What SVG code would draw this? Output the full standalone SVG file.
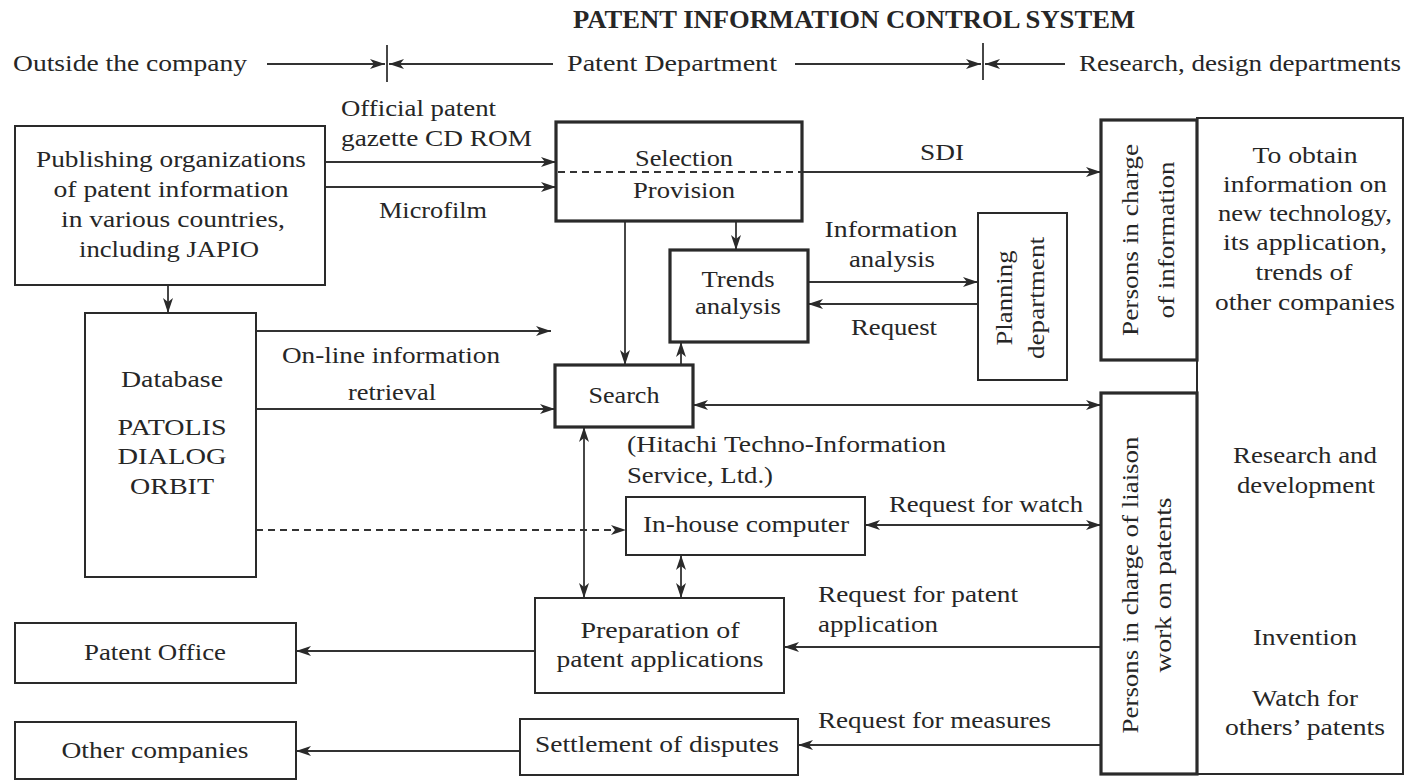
<svg xmlns="http://www.w3.org/2000/svg" width="1409" height="781" viewBox="0 0 1409 781">
<defs>
<style>
.t{font-family:"Liberation Serif","Times New Roman",serif;font-size:24px;fill:#262626;text-anchor:middle}
.s{text-anchor:start}
.ti{font-family:"Liberation Serif","Times New Roman",serif;font-size:25px;font-weight:bold;fill:#262626;text-anchor:middle}
.b{fill:#fff;stroke:#2a2a2a;stroke-width:2}
.k{fill:#fff;stroke:#2a2a2a;stroke-width:3.2}
.c{fill:none;stroke:#333;stroke-width:1.8}
.d{fill:none;stroke:#333;stroke-width:1.8;stroke-dasharray:7 5}
.a{marker-end:url(#ah)}
.aa{marker-end:url(#ah);marker-start:url(#ah)}
</style>
<marker id="ah" viewBox="0 0 15 10" refX="15" refY="5" markerWidth="15" markerHeight="10" markerUnits="userSpaceOnUse" orient="auto-start-reverse">
<path d="M0,0 L15,5 L0,10 L4,5 z" fill="#2a2a2a"/>
</marker>
</defs>
<rect width="1409" height="781" fill="#fff"/>

<g id="header">
<text class="ti" x="854" y="28" textLength="562" lengthAdjust="spacingAndGlyphs">PATENT INFORMATION CONTROL SYSTEM</text>
<text class="t s" x="13" y="71" textLength="234" lengthAdjust="spacingAndGlyphs">Outside the company</text>
<text class="t s" x="567" y="71" textLength="210" lengthAdjust="spacingAndGlyphs">Patent Department</text>
<text class="t s" x="1079" y="71" textLength="322" lengthAdjust="spacingAndGlyphs">Research, design departments</text>
<line class="c a" x1="267" y1="64" x2="385" y2="64"/>
<line class="c" x1="387" y1="45" x2="387" y2="82"/>
<line class="c a" x1="553" y1="64" x2="389" y2="64"/>
<line class="c a" x1="795" y1="64" x2="981" y2="64"/>
<line class="c" x1="983" y1="43" x2="983" y2="80"/>
<line class="c a" x1="1065" y1="64" x2="985" y2="64"/>
</g>

<g id="connectors">
<line class="c a" x1="325" y1="162" x2="556" y2="162"/>
<line class="c a" x1="325" y1="187" x2="556" y2="187"/>
<line class="c a" x1="168" y1="285" x2="168" y2="313"/>
<line class="c a" x1="802" y1="172" x2="1101" y2="172"/>
<line class="c a" x1="736" y1="221" x2="736" y2="250"/>
<line class="c a" x1="625" y1="221" x2="625" y2="365"/>
<line class="c a" x1="681" y1="365" x2="681" y2="342"/>
<line class="c a" x1="808" y1="282" x2="978" y2="282"/>
<line class="c a" x1="978" y1="304" x2="808" y2="304"/>
<line class="c a" x1="256" y1="331" x2="551" y2="331"/>
<line class="c a" x1="256" y1="409" x2="555" y2="409"/>
<line class="c aa" x1="693" y1="405" x2="1101" y2="405"/>
<line class="d a" x1="256" y1="530" x2="626" y2="530"/>
<line class="c aa" x1="865" y1="525" x2="1101" y2="525"/>
<line class="c aa" x1="584" y1="427" x2="584" y2="598"/>
<line class="c aa" x1="681" y1="555" x2="681" y2="598"/>
<line class="c a" x1="1101" y1="647" x2="784" y2="647"/>
<line class="c a" x1="535" y1="651" x2="296" y2="651"/>
<line class="c a" x1="1101" y1="745" x2="798" y2="745"/>
<line class="c a" x1="520" y1="751" x2="296" y2="751"/>
<line class="c a" x1="1303" y1="334" x2="1303" y2="432"/>
<line class="c a" x1="1303" y1="521" x2="1303" y2="620"/>
</g>

<g id="publishing">
<rect class="b" x="15" y="126" width="310" height="159"/>
<text class="t" x="171" y="167" textLength="270" lengthAdjust="spacingAndGlyphs">Publishing organizations</text>
<text class="t" x="171" y="197" textLength="235" lengthAdjust="spacingAndGlyphs">of patent information</text>
<text class="t" x="173" y="227" textLength="224" lengthAdjust="spacingAndGlyphs">in various countries,</text>
<text class="t" x="169" y="257" textLength="180" lengthAdjust="spacingAndGlyphs">including JAPIO</text>
</g>

<g id="label-cdrom">
<text class="t s" x="341" y="116" textLength="155" lengthAdjust="spacingAndGlyphs">Official patent</text>
<text class="t s" x="341" y="146" textLength="191" lengthAdjust="spacingAndGlyphs">gazette CD ROM</text>
<text class="t s" x="379" y="218" textLength="108" lengthAdjust="spacingAndGlyphs">Microfilm</text>
</g>

<g id="selection">
<rect class="k" x="556" y="122" width="246" height="99"/>
<line class="d" x1="558" y1="172" x2="802" y2="172"/>
<text class="t" x="684" y="166" textLength="98" lengthAdjust="spacingAndGlyphs">Selection</text>
<text class="t" x="684" y="198" textLength="102" lengthAdjust="spacingAndGlyphs">Provision</text>
</g>
<text class="t" x="942" y="160" textLength="44" lengthAdjust="spacingAndGlyphs">SDI</text>

<g id="trends">
<rect class="k" x="670" y="250" width="138" height="92"/>
<text class="t" x="738" y="287" textLength="73" lengthAdjust="spacingAndGlyphs">Trends</text>
<text class="t" x="738" y="314" textLength="86" lengthAdjust="spacingAndGlyphs">analysis</text>
</g>
<g id="label-analysis">
<text class="t" x="891" y="237" textLength="133" lengthAdjust="spacingAndGlyphs">Information</text>
<text class="t" x="892" y="267" textLength="86" lengthAdjust="spacingAndGlyphs">analysis</text>
<text class="t" x="894" y="335" textLength="86" lengthAdjust="spacingAndGlyphs">Request</text>
</g>

<g id="planning">
<rect class="b" x="978" y="213" width="89" height="167"/>
<text class="t" transform="translate(1012,298) rotate(-90)" textLength="95" lengthAdjust="spacingAndGlyphs">Planning</text>
<text class="t" transform="translate(1044,298) rotate(-90)" textLength="122" lengthAdjust="spacingAndGlyphs">department</text>
</g>

<g id="research">
<rect class="b" x="1197" y="118" width="206" height="656"/>
<text class="t" x="1305" y="163" textLength="105" lengthAdjust="spacingAndGlyphs">To obtain</text>
<text class="t" x="1305" y="192" textLength="164" lengthAdjust="spacingAndGlyphs">information on</text>
<text class="t" x="1305" y="221" textLength="174" lengthAdjust="spacingAndGlyphs">new technology,</text>
<text class="t" x="1305" y="250" textLength="164" lengthAdjust="spacingAndGlyphs">its application,</text>
<text class="t" x="1304" y="280" textLength="97" lengthAdjust="spacingAndGlyphs">trends of</text>
<text class="t" x="1305" y="310" textLength="180" lengthAdjust="spacingAndGlyphs">other companies</text>
<text class="t" x="1305" y="463" textLength="144" lengthAdjust="spacingAndGlyphs">Research and</text>
<text class="t" x="1306" y="493" textLength="138" lengthAdjust="spacingAndGlyphs">development</text>
<text class="t" x="1305" y="645" textLength="104" lengthAdjust="spacingAndGlyphs">Invention</text>
<text class="t" x="1305" y="706" textLength="106" lengthAdjust="spacingAndGlyphs">Watch for</text>
<text class="t" x="1305" y="735" textLength="160" lengthAdjust="spacingAndGlyphs">others’ patents</text>
</g>

<g id="info-persons">
<rect class="k" x="1101" y="120" width="96" height="240"/>
<text class="t" transform="translate(1138,240) rotate(-90)" textLength="192" lengthAdjust="spacingAndGlyphs">Persons in charge</text>
<text class="t" transform="translate(1174,240) rotate(-90)" textLength="157" lengthAdjust="spacingAndGlyphs">of information</text>
</g>

<g id="liaison-persons">
<rect class="k" x="1101" y="393" width="96" height="381"/>
<text class="t" transform="translate(1138,585) rotate(-90)" textLength="297" lengthAdjust="spacingAndGlyphs">Persons in charge of liaison</text>
<text class="t" transform="translate(1171,585) rotate(-90)" textLength="175" lengthAdjust="spacingAndGlyphs">work on patents</text>
</g>

<g id="database">
<rect class="b" x="85" y="313" width="171" height="264"/>
<text class="t" x="172" y="387" textLength="102" lengthAdjust="spacingAndGlyphs">Database</text>
<text class="t" x="172" y="435" textLength="109" lengthAdjust="spacingAndGlyphs">PATOLIS</text>
<text class="t" x="172" y="464" textLength="109" lengthAdjust="spacingAndGlyphs">DIALOG</text>
<text class="t" x="172" y="494" textLength="84" lengthAdjust="spacingAndGlyphs">ORBIT</text>
</g>
<g id="label-online">
<text class="t" x="391" y="363" textLength="218" lengthAdjust="spacingAndGlyphs">On-line information</text>
<text class="t" x="392" y="400" textLength="88" lengthAdjust="spacingAndGlyphs">retrieval</text>
</g>

<g id="search">
<rect class="k" x="555" y="365" width="138" height="62"/>
<text class="t" x="624" y="403" textLength="71" lengthAdjust="spacingAndGlyphs">Search</text>
</g>
<g id="label-hitachi">
<text class="t s" x="627" y="452" textLength="319" lengthAdjust="spacingAndGlyphs">(Hitachi Techno-Information</text>
<text class="t s" x="627" y="483" textLength="146" lengthAdjust="spacingAndGlyphs">Service, Ltd.)</text>
</g>

<g id="inhouse">
<rect class="b" x="626" y="497" width="239" height="58"/>
<text class="t" x="746" y="532" textLength="206" lengthAdjust="spacingAndGlyphs">In-house computer</text>
</g>
<text class="t s" x="889" y="512" textLength="194" lengthAdjust="spacingAndGlyphs">Request for watch</text>

<g id="preparation">
<rect class="b" x="535" y="598" width="249" height="95" stroke-width="2.5"/>
<text class="t" x="660" y="638" textLength="159" lengthAdjust="spacingAndGlyphs">Preparation of</text>
<text class="t" x="660" y="667" textLength="207" lengthAdjust="spacingAndGlyphs">patent applications</text>
</g>
<g id="label-reqpatent">
<text class="t s" x="818" y="602" textLength="200" lengthAdjust="spacingAndGlyphs">Request for patent</text>
<text class="t s" x="818" y="632" textLength="120" lengthAdjust="spacingAndGlyphs">application</text>
</g>

<g id="patent-office">
<rect class="b" x="15" y="623" width="281" height="60"/>
<text class="t" x="155" y="660" textLength="142" lengthAdjust="spacingAndGlyphs">Patent Office</text>
</g>

<g id="settlement">
<rect class="b" x="520" y="719" width="278" height="56"/>
<text class="t" x="657" y="752" textLength="244" lengthAdjust="spacingAndGlyphs">Settlement of disputes</text>
</g>
<text class="t s" x="818" y="728" textLength="233" lengthAdjust="spacingAndGlyphs">Request for measures</text>

<g id="other-companies">
<rect class="b" x="15" y="722" width="281" height="57"/>
<text class="t" x="155" y="758" textLength="187" lengthAdjust="spacingAndGlyphs">Other companies</text>
</g>
</svg>
